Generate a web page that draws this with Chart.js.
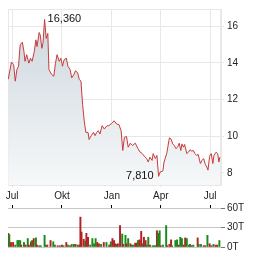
<!DOCTYPE html>
<html>
<head>
<meta charset="utf-8">
<script src="https://cdn.jsdelivr.net/npm/chart.js"></script>
<style>
  body { margin: 0; background: #fff; }
  #kurs { position: absolute; left: 0; top: 0; }
  #umsatz { position: absolute; left: 0; top: 200px; }
</style>
</head>
<body>
<canvas id="kurs" width="264" height="205"></canvas>
<canvas id="umsatz" width="264" height="55"></canvas>
<script>
// Tage seit 1. Juli, Schlusskurse
const days = [-7,-1,3,6,9,12,15,19,22,24,
  27,31,34,37,41,44,46,50,52,55,
  57,60,63,66,68,73,77,80,83,87,
  90,93,96,100,103,107,110,114,117,121,
  124,127,130,133,136,140,142,146,150,153,
  156,159,162,166,170,175,178,184,188,193,
  197,201,204,207,211,214,218,222,227,232,
  236,240,244,248,251,254,258,260,264,267,
  270,273,278,280,283,285,287,289,290,293,
  296,299,302,305,308,311,313,316,318,322,
  325,328,331,334,337,340,343,347,350,353,
  356,359,361,364,367,370,372,376,379,381,
  383];
const prices = [13.10,14.04,13.90,13.00,13.63,13.81,14.98,15.12,14.61,14.08,
  14.44,13.98,14.25,14.08,14.61,15.25,14.88,15.65,15.51,14.79,
  15.06,16.36,15.33,15.60,13.63,13.36,13.27,13.97,14.44,14.08,
  14.25,13.81,14.17,14.25,13.81,13.63,13.18,13.36,13.57,13.44,
  13.09,13.00,11.74,10.84,10.21,10.21,9.82,10.03,10.21,10.03,
  10.21,10.30,10.12,10.57,10.39,10.57,10.57,10.70,10.84,10.66,
  10.63,10.30,9.22,9.94,9.98,9.40,9.62,9.49,9.62,9.32,
  9.13,9.05,8.90,8.78,8.59,8.86,8.68,9.05,8.78,8.95,
  7.81,8.05,8.11,8.59,8.86,9.05,9.40,9.76,9.91,9.85,
  9.58,9.49,9.32,9.40,9.62,9.22,9.58,9.40,9.55,9.05,
  9.13,9.26,9.19,9.22,9.05,8.95,9.01,8.51,8.68,8.78,
  8.47,8.32,8.15,8.90,9.05,8.51,8.95,9.13,9.05,8.59,
  8.86];

// Umsatz in Tausend Stück
const volDays = [-7,-5,-2,2,6,10,12,15,17,22,
  25,29,31,35,37,40,44,46,50,53,
  60,62,65,71,76,79,84,88,92,95,
  100,103,107,110,114,117,121,124,126,128,
  132,135,137,140,144,148,151,154,157,160,
  164,169,174,179,182,185,188,190,193,195,
  199,203,205,209,211,214,218,221,224,227,
  230,232,235,238,241,243,246,248,251,254,
  259,262,264,267,269,272,274,278,284,286,
  290,293,295,301,304,307,310,313,316,319,
  322,326,328,331,334,342,344,348,353,356,
  360,364,367,371,375,378,382];
const volumes = [21,19,7,7,3,10,10,10,3,7,
  3,13,3,8,10,13,14,3,2,2,
  18,3,3,10,8,3,2,2,3,2,
  7,3,2,4,4,4,3,3,46,23,
  12,9,21,15,3,13,5,13,7,5,
  4,7,7,3,8,13,10,5,4,5,
  33,20,4,18,5,13,5,3,3,6,
  6,10,11,24,5,15,10,3,15,3,
  2,2,2,25,21,25,2,3,33,2,
  4,11,2,10,11,3,15,13,3,14,
  13,3,4,2,3,14,4,4,2,2,
  18,5,2,4,3,3,10];
const volUp = [0,1,0,0,1,1,1,1,0,1,
  0,1,0,0,1,0,1,0,1,1,
  1,1,0,0,1,1,0,0,0,1,
  0,1,0,1,1,0,1,0,0,0,
  0,1,0,0,1,1,1,1,0,0,
  1,0,1,0,1,0,0,0,1,0,
  0,1,0,1,0,1,0,1,1,0,
  0,1,0,0,1,0,0,1,1,0,
  1,1,1,0,1,1,0,1,1,0,
  0,0,1,1,1,0,1,1,0,0,
  1,1,1,0,1,0,1,1,0,0,
  1,0,0,1,0,0,1];

const monthDays = [0, 92, 184, 274, 365];
const monthLabels = ['Jul', 'Okt', 'Jan', 'Apr', 'Jul'];
const priceTicks = [8, 10, 12, 14, 16];
const volTicks = [0, 30, 60];

const xMin = -7.4, xMax = 385;
const gridCol = '#e8e8e8';
const font = { family: 'Arial', size: 10 };

const fmt = v => v.toFixed(3).replace('.', ',');

const rahmen = {
    id: 'rahmen',
    beforeDatasetsDraw(chart) {
        const a = chart.chartArea, c = chart.ctx;
        c.save();
        c.strokeStyle = gridCol;
        c.lineWidth = 1;
        c.strokeRect(Math.round(a.left) + 0.5, Math.round(a.top) + 0.5,
                     Math.round(a.right - a.left) - 1, Math.round(a.bottom - a.top) - 1);
        c.restore();
    }
};

const marken = {
    id: 'marken',
    afterDatasetsDraw(chart) {
        const c = chart.ctx, x = chart.scales.x, y = chart.scales.y;
        const hi = prices.indexOf(Math.max(...prices));
        const lo = prices.indexOf(Math.min(...prices));
        c.save();
        c.font = '11px Arial';
        c.fillStyle = '#111';
        c.textBaseline = 'middle';
        c.textAlign = 'left';
        c.fillText(fmt(prices[hi]), x.getPixelForValue(days[hi]) + 3, y.getPixelForValue(prices[hi]));
        c.textAlign = 'right';
        c.fillText(fmt(prices[lo]), x.getPixelForValue(days[lo]) - 5, y.getPixelForValue(prices[lo]));
        c.restore();
    }
};

new Chart(document.getElementById('kurs'), {
    type: 'line',
    data: {
        datasets: [{
            data: days.map((d, i) => ({ x: d, y: prices[i] })),
            borderColor: '#c83a3a',
            borderWidth: 1,
            pointRadius: 0,
            tension: 0,
            fill: 'start',
            backgroundColor: ctx => {
                const a = ctx.chart.chartArea;
                if (!a) return '#dde3e8';
                const g = ctx.chart.ctx.createLinearGradient(0, a.top, 0, a.bottom);
                g.addColorStop(0, 'rgb(204,213,221)');
                g.addColorStop(1, 'rgb(246,248,249)');
                return g;
            }
        }]
    },
    options: {
        responsive: false,
        animation: false,
        devicePixelRatio: 1,
        layout: { padding: { left: 8, top: 7, right: 0, bottom: 0 } },
        plugins: { legend: { display: false }, tooltip: { enabled: false } },
        scales: {
            x: {
                type: 'linear', min: xMin, max: xMax,
                afterBuildTicks: s => { s.ticks = monthDays.map(v => ({ value: v })); },
                afterFit: s => { s.height = 20; },
                ticks: { callback: (v, i) => monthLabels[i], font: font, color: '#222',
                         maxRotation: 0, autoSkip: false, padding: 3 },
                grid: { color: gridCol, tickLength: 2 },
                border: { color: gridCol }
            },
            y: {
                position: 'right', min: 7.34, max: 16.93,
                afterBuildTicks: s => { s.ticks = priceTicks.map(v => ({ value: v })); },
                afterFit: s => { s.width = 43; },
                ticks: { font: font, color: '#222', padding: 3 },
                grid: { color: gridCol, tickLength: 3 },
                border: { color: gridCol }
            }
        }
    },
    plugins: [rahmen, marken]
});

new Chart(document.getElementById('umsatz'), {
    type: 'bar',
    data: {
        datasets: [{
            data: volDays.map((d, i) => ({ x: d, y: volumes[i] })),
            backgroundColor: volUp.map(u => u ? '#1a8a1a' : '#b22222'),
            barThickness: 1.3
        }]
    },
    options: {
        responsive: false,
        animation: false,
        devicePixelRatio: 1,
        layout: { padding: { left: 8, top: 0, right: 0, bottom: 8 } },
        plugins: { legend: { display: false }, tooltip: { enabled: false } },
        scales: {
            x: {
                type: 'linear', position: 'top', min: xMin, max: xMax, offset: false,
                afterBuildTicks: s => { s.ticks = monthDays.map(v => ({ value: v })); },
                afterFit: s => { s.height = 7; },
                ticks: { display: false },
                grid: { offset: false, drawOnChartArea: false, tickLength: 3, tickColor: '#000' },
                border: { display: false }
            },
            y: {
                position: 'right', min: 0, max: 60,
                afterBuildTicks: s => { s.ticks = volTicks.map(v => ({ value: v })); },
                afterFit: s => { s.width = 43; },
                ticks: { callback: v => v + 'T', font: font, color: '#222', padding: 2 },
                grid: { color: '#c8c8c8', tickLength: 4, tickColor: '#777' },
                border: { display: false }
            }
        }
    }
});
</script>
</body>
</html>
